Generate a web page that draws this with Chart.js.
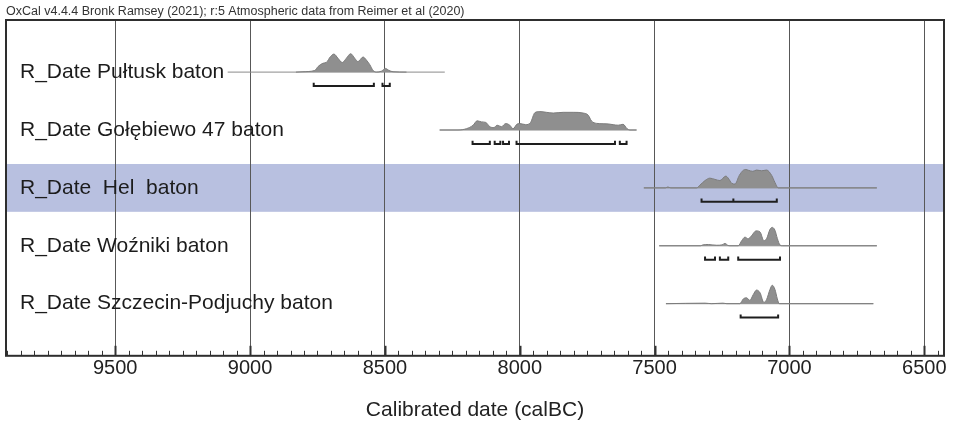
<!DOCTYPE html>
<html>
<head>
<meta charset="utf-8">
<script src="https://cdn.jsdelivr.net/npm/chart.js@4"></script>
<style>
html,body{margin:0;padding:0;background:#fff;}
#wrap{width:956px;height:423px;}
</style>
</head>
<body>
<div id="wrap"><canvas id="c" width="956" height="423"></canvas></div>
<script>
// ---- text ----
const headerText = 'OxCal v4.4.4 Bronk Ramsey (2021); r:5 Atmospheric data from Reimer et al (2020)';
const axisTitle = 'Calibrated date (calBC)';
const sampleLabels = [
  'R_Date Pułtusk baton',
  'R_Date Gołębiewo 47 baton',
  'R_Date  Hel  baton',
  'R_Date Woźniki baton',
  'R_Date Szczecin-Podjuchy baton'
];
const highlightedRow = 2;
const tickYears = [9500, 9000, 8500, 8000, 7500, 7000, 6500];
const axisRange = [9905, 6427];

// ---- Pułtusk ----
const pultuskYears = [8830, 8804, 8760, 8748, 8730, 8717, 8702, 8689, 8674, 8658, 8643, 8627, 8612, 8600, 8581, 8569, 8556, 8544, 8531, 8513, 8498, 8485, 8470, 8420];
const pultuskProb  = [0, 2, 9, 30, 48, 53, 84, 98, 75, 52, 75, 100, 75, 57, 82, 66, 40, 9, 0, 5, 20, 9, 2, 0];
const pultuskSpan = [9083, 8278];
const pultuskRanges = [[8764, 8541], [8509, 8482]];

// ---- Gołębiewo 47 ----
const golebiewoYears = [8297, 8229, 8198, 8173, 8158, 8142, 8126, 8111, 8096, 8084, 8068, 8052, 8037, 8025, 8010, 8000, 7978, 7960, 7944, 7926, 7901, 7876, 7839, 7802, 7765, 7746, 7734, 7715, 7691, 7672, 7654, 7635, 7617, 7602, 7592, 7567];
const golebiewoProb  = [0, 0, 7, 26, 50, 44, 41, 18, 13, 26, 18, 35, 26, 7, 32, 35, 29, 41, 94, 100, 96, 92, 96, 96, 92, 80, 49, 36, 34, 33, 29, 26, 31, 7, 0, 0];
const golebiewoSpan = [8297, 7567];
const golebiewoRanges = [[8175, 8111], [8093, 8072], [8062, 8040], [8012, 7647], [7629, 7604]];

// ---- Hel ----
const helYears = [7540, 7460, 7451, 7440, 7344, 7332, 7313, 7295, 7276, 7258, 7236, 7227, 7214, 7202, 7186, 7171, 7162, 7153, 7136, 7122, 7103, 7085, 7066, 7054, 7042, 6676];
const helProb  = [0, 0, 5, 0, 0, 15, 40, 53, 46, 40, 64, 53, 25, 21, 68, 96, 100, 96, 90, 97, 93, 97, 68, 30, 0, 0];
const helSpan = [7540, 6676];
const helRanges = [[7326, 7208], [7208, 7047]];

// ---- Woźniki ----
const wozlikiYears = [7483, 7330, 7321, 7300, 7287, 7270, 7250, 7239, 7228, 7221, 7190, 7177, 7165, 7153, 7140, 7124, 7109, 7095, 7085, 7072, 7064, 7054, 7045, 7035, 7025, 6676];
const wozlikiProb  = [0, 0, 5, 7, 5, 3, 5, 13, 2, 0, 0, 28, 47, 38, 56, 81, 75, 28, 38, 90, 100, 85, 40, 4, 0, 0];
const wozlikiSpan = [7483, 6676];
const wozlikiRanges = [[7313, 7276], [7258, 7227], [7190, 7035]];

// ---- Szczecin-Podjuchy ----
const szczecinYears = [7458, 7313, 7289, 7247, 7232, 7184, 7171, 7159, 7147, 7134, 7122, 7109, 7095, 7085, 7072, 7064, 7054, 7045, 7038, 6689];
const szczecinProb  = [0, 3, 0, 3, 0, 0, 26, 32, 18, 50, 74, 59, 7, 22, 78, 100, 78, 26, 0, 0];
const szczecinSpan = [7458, 6689];
const szczecinRanges = [[7181, 7042]];

const samples = [
  {years: pultuskYears, prob: pultuskProb, span: pultuskSpan, ranges: pultuskRanges},
  {years: golebiewoYears, prob: golebiewoProb, span: golebiewoSpan, ranges: golebiewoRanges},
  {years: helYears, prob: helProb, span: helSpan, ranges: helRanges},
  {years: wozlikiYears, prob: wozlikiProb, span: wozlikiSpan, ranges: wozlikiRanges},
  {years: szczecinYears, prob: szczecinProb, span: szczecinSpan, ranges: szczecinRanges}
];

// ---- layout constants (style only) ----
const ROW_OFFSET = 0.9;   // baseline of first row in y-units
const PEAK_H = 0.318;     // height of a 100% peak in y-units
const BRACKET_DY = 0.24;  // bracket below baseline
const BRACKET_TICK = 0.055;
const BAND_HALF = 0.413;
const FONT = '"Liberation Sans", Arial, Helvetica, sans-serif';

const rowBase = i => i + ROW_OFFSET;

const datasets = [];
samples.forEach((s, i) => {
  const base = rowBase(i);
  datasets.push({
    data: s.years.map((yr, k) => ({x: yr, y: base - s.prob[k] / 100 * PEAK_H})),
    fill: {value: base},
    backgroundColor: '#8f8f8f',
    borderColor: '#7c7c7c',
    borderWidth: 1,
    pointRadius: 0,
    cubicInterpolationMode: 'monotone'
  });
});
samples.forEach((s, i) => {
  const base = rowBase(i);
  const bd = [];
  s.ranges.forEach(([a, b]) => {
    bd.push({x: a, y: base + BRACKET_DY - BRACKET_TICK},
            {x: a, y: base + BRACKET_DY},
            {x: b, y: base + BRACKET_DY},
            {x: b, y: base + BRACKET_DY - BRACKET_TICK},
            {x: b, y: null});
  });
  datasets.push({
    data: bd, fill: false, borderColor: '#1e1e1e', borderWidth: 2,
    pointRadius: 0, spanGaps: false, borderJoinStyle: 'miter', borderCapStyle: 'butt', tension: 0
  });
});
samples.forEach((s, i) => {
  const base = rowBase(i);
  datasets.push({
    data: s.span.map(yr => ({x: yr, y: base})),
    fill: false, borderColor: '#8a8a8a', borderWidth: 1, pointRadius: 0, tension: 0
  });
});

const backgroundPlugin = {
  id: 'bg',
  beforeDraw(chart) {
    const {ctx, chartArea: a, scales: {y}} = chart;
    ctx.save();
    ctx.fillStyle = '#ffffff';
    ctx.fillRect(0, 0, chart.width, chart.height);
    const b = rowBase(highlightedRow);
    const t = y.getPixelForValue(b - BAND_HALF);
    const bt = y.getPixelForValue(b + BAND_HALF);
    ctx.fillStyle = '#b8c0e0';
    ctx.fillRect(a.left, t, a.right - a.left, bt - t);
    ctx.restore();
  }
};

const overlayPlugin = {
  id: 'overlay',
  afterDraw(chart) {
    const {ctx, chartArea: a, scales: {x, y}} = chart;
    ctx.save();
    // minor/major ticks along bottom, pointing up
    ctx.strokeStyle = '#333';
    for (let v = 6450; v <= 9900; v += 50) {
      const px = Math.round(x.getPixelForValue(v)) + 0.5;
      if (px < a.left || px > a.right) continue;
      const major = v % 500 === 0;
      ctx.lineWidth = major ? 2 : 1;
      ctx.beginPath();
      ctx.moveTo(px, a.bottom);
      ctx.lineTo(px, a.bottom - (major ? 10 : 5));
      ctx.stroke();
    }
    // frame
    ctx.strokeStyle = '#2e2e2e';
    ctx.lineWidth = 2;
    ctx.strokeRect(a.left, a.top, a.right - a.left, a.bottom - a.top);
    // row labels
    ctx.fillStyle = '#1c1c1c';
    ctx.font = '21px ' + FONT;
    ctx.textBaseline = 'middle';
    ctx.textAlign = 'left';
    sampleLabels.forEach((lab, i) => {
      ctx.fillText(lab, a.left + 14, y.getPixelForValue(rowBase(i)));
    });
    ctx.restore();
  }
};

new Chart(document.getElementById('c'), {
  type: 'line',
  data: {datasets},
  options: {
    responsive: false,
    animation: false,
    events: [],
    layout: {padding: {left: 6, right: 12, top: 0, bottom: 0}},
    plugins: {
      legend: {display: false},
      tooltip: {enabled: false},
      title: {
        display: true, text: headerText, align: 'start', color: '#333',
        font: {family: FONT, size: 12.5, weight: 'normal', lineHeight: 1.2},
        padding: {top: 4, bottom: 1}
      }
    },
    scales: {
      x: {
        type: 'linear', reverse: true, min: axisRange[1], max: axisRange[0],
        afterBuildTicks: s => { s.ticks = tickYears.map(v => ({value: v})); },
        grid: {color: '#585858', lineWidth: 1, drawTicks: false, drawOnChartArea: true},
        border: {display: false},
        ticks: {
          font: {family: FONT, size: 20}, color: '#222', padding: 1,
          maxRotation: 0, autoSkip: false, callback: v => String(v)
        },
        title: {
          display: true, text: axisTitle, color: '#222',
          font: {family: FONT, size: 21}, padding: {top: 16, bottom: 0}
        }
      },
      y: {display: false, min: 0, max: 5.8, reverse: true}
    }
  },
  plugins: [backgroundPlugin, overlayPlugin]
});
</script>
</body>
</html>
